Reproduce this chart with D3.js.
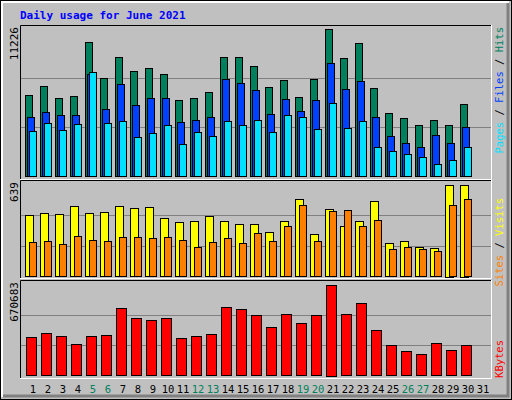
<!DOCTYPE html>
<html><head><meta charset="utf-8">
<script src="https://cdn.jsdelivr.net/npm/d3@7"></script>
<style>body{margin:0;background:#fff}text{font-family:"DejaVu Sans Mono",monospace}</style>
</head><body><div id="chart"></div>
<script>
var days = d3.range(1, 32);
var weekend = [5, 6, 12, 13, 19, 20, 26, 27];
var hits = [6174,6863,5945,6098,10231,7476,9083,8011,8241,7782,5792,5945,6404,9083,9083,8394,6787,7323,6021,7399,11226,9006,10155,6710,4797,4414,3878,4261,3878,5485,0];
var files = [4490,4873,4644,4644,7782,5103,7016,5409,5945,5945,4108,4261,4490,7399,7093,6557,4720,5868,4950,5792,8624,6634,7246,4490,3036,2500,2194,3113,2500,3725,0];
var pages = [3419,4031,3495,3955,7935,4031,4184,2960,3266,3878,2424,3342,3036,4184,3878,4261,3342,4644,4490,3572,5562,3649,4184,2194,1888,1658,1429,893,1199,2194,0];
var visits = [425,439,432,488,439,446,488,474,481,404,376,383,418,383,362,362,307,383,537,293,467,349,383,523,230,244,202,195,639,639,0];
var sites = [237,244,223,279,251,244,272,272,265,272,251,202,237,265,230,300,244,349,495,244,453,460,349,390,188,202,188,174,495,537,0];
var kbytes = [281486,310858,288829,230084,288829,296172,494435,421004,406318,421004,274142,288829,303515,501778,487092,443034,354917,450377,384289,443034,670683,450377,531150,332887,222741,178682,156653,237427,186025,222741,0];

var W = 512, H = 400;
var svg = d3.select("#chart").append("svg").attr("width", W).attr("height", H);
svg.append("rect").attr("x", 0).attr("y", 0).attr("width", W).attr("height", H).attr("fill", "#c0c0c0");
// bevel frame
svg.append("rect").attr("x", 0.5).attr("y", 0.5).attr("width", W - 1).attr("height", H - 1).attr("fill", "none").attr("stroke", "#000");
svg.append("path").attr("d", "M2,397V2H509").attr("stroke", "#fff").attr("stroke-width", 2).attr("fill", "none");
svg.append("path").attr("d", "M3,396H508V3").attr("stroke", "#808080").attr("stroke-width", 3).attr("fill", "none");

svg.append("text").attr("x", 20).attr("y", 19).text("Daily usage for June 2021")
  .attr("fill", "#0000ff").style("font-size", "11px").style("font-weight", "bold");

var x = d3.scaleLinear().domain([1, 32]).range([25, 490]);

var panels = [
  {top: 25, bottom: 180, base: 176, max: 11226, maxY: 29},
  {top: 180, bottom: 279, base: 276.5, max: 639, maxY: 184.5},
  {top: 280, bottom: 379, base: 375.5, max: 670683, maxY: 284.5}
];
panels.forEach(function(p) {
  p.y = d3.scaleLinear().domain([0, p.max]).range([p.base, p.maxY]);
  svg.append("path").attr("d", "M20.5," + p.bottom + "V" + (p.top + 0.5) + "H491").attr("stroke", "#000").attr("fill", "none");
  svg.append("path").attr("d", "M20," + (p.bottom - 0.5) + "H491.5V" + p.top).attr("stroke", "#fff").attr("fill", "none");
  [1, 2].forEach(function(k) {
    var gy = Math.round(p.base - k * (p.base - p.maxY) / 3) + 0.5;
    svg.append("line").attr("x1", 21).attr("x2", 491).attr("y1", gy).attr("y2", gy).attr("stroke", "#808080");
  });
  svg.append("text").attr("transform", "translate(18," + (p.top + 2) + ") rotate(-90)")
    .attr("text-anchor", "end").style("font-size", "11px").attr("fill", "#000").text(p.max);
});

function bars(p, data, off, w, color) {
  svg.append("g").selectAll("rect").data(data).enter().filter(function(d) { return d > 0; })
    .append("rect")
    .attr("x", function(d, i) { return x(i + 1) + off + 0.5; })
    .attr("y", function(d) { return Math.round(p.y(d)) + 0.5; })
    .attr("width", w)
    .attr("height", function(d) { return Math.round(p.base - p.y(d)); })
    .attr("fill", color).attr("stroke", "#000");
}
bars(panels[0], hits, 0, 7, "#00805c");
bars(panels[0], files, 2, 7, "#0040ff");
bars(panels[0], pages, 4, 7, "#00e0ff");
bars(panels[1], visits, 0, 8, "#ffff00");
bars(panels[1], sites, 4, 7, "#ff8000");
bars(panels[2], kbytes, 1, 10, "#ff0000");

svg.append("g").selectAll("text").data(days).enter().append("text")
  .attr("x", function(d) { return x(d) + 8; }).attr("y", 393)
  .attr("text-anchor", "middle").style("font-size", "10.5px")
  .attr("fill", function(d) { return weekend.indexOf(d) >= 0 ? "#00805c" : "#000"; })
  .text(function(d) { return d; });

function sideLabel(yTop, parts) {
  var t = svg.append("text").attr("transform", "translate(503," + yTop + ") rotate(-90)")
    .attr("text-anchor", "end").style("font-size", "10.5px");
  parts.forEach(function(pt) { t.append("tspan").attr("fill", pt[1]).text(pt[0]); });
}
sideLabel(27, [["Pages", "#00e0ff"], [" / ", "#000"], ["Files", "#0040ff"], [" / ", "#000"], ["Hits", "#00805c"]]);
sideLabel(198, [["Sites", "#ff8000"], [" / ", "#000"], ["Visits", "#ffff00"]]);
sideLabel(340, [["KBytes", "#ff0000"]]);
</script></body></html>
